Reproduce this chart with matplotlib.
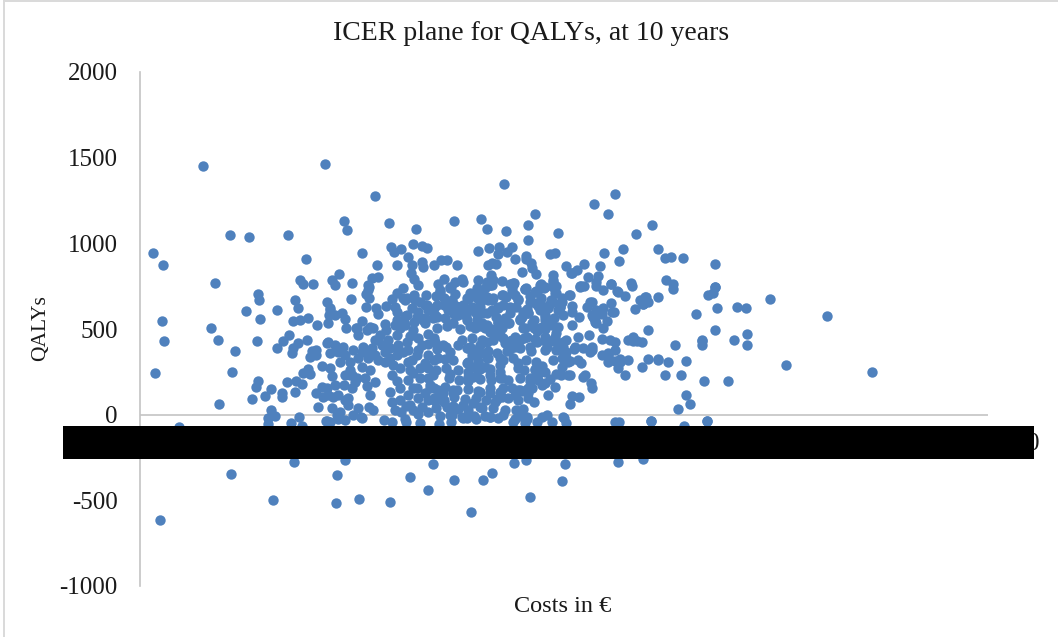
# ICER plane scatter
import matplotlib
matplotlib.use('Agg')
import matplotlib.pyplot as plt
from matplotlib.lines import Line2D
from matplotlib.patches import Rectangle

# the cost scale is hidden in the picture, so costs run 0-848 in plain axis units
top_points = [(63,1452),(185,1463),(235,1277),(204,1131),(207,1079),(249,1119),(276,1084),(90,1049),(109,1038),(148,1049),
    (13,944),(23,875),(222,944),(273,997),(251,979),(254,950),(261,968),(282,985),(287,974),(166,909),(268,921),(237,875),
    (257,875),(272,875),(282,892),(283,863),(199,822),(75,770),(160,787),(163,764),(173,764),(192,787),(195,758),(212,770),
    (232,799),(238,805),(228,758),(271,828),(274,793),(278,758),(263,740),
    (364,1347),(475,1288),(454,1230),(468,1172),(395,1172),(341,1143),(314,1131),(388,1108),(512,1108),(347,1084),(366,1073),
    (418,1061),(496,1055),(388,1020),(338,956),(349,974),(359,979),(358,939),(367,950),(372,979),(483,968),(518,968),(464,944),
    (410,939),(415,944),(386,927),(386,909),(375,909),(531,921),(525,915),(543,915),(479,898),(301,904),(307,904),(294,875),
    (317,875),(348,875),(352,886),(356,880),(391,886),(392,857),(426,869),(444,880),(460,869),(575,880),(382,834),(396,822),
    (437,845),(431,828),(351,816),(413,816),(448,805),(458,810),(526,787),(533,764),(491,770),(492,752),(471,764),(456,775),
    (304,793),(322,793),(338,787),(362,781),(347,770),(353,787),(350,758),(298,764),(401,764),(413,787),(416,752),(374,770),
    (440,752),(444,752),(575,746),(311,746),(386,740),(370,764),(404,740),(463,729),(477,723),(396,723)]

left_points = [(118,705),(119,670),(106,606),(137,612),(22,548),(120,560),(155,670),(158,624),(187,659),(211,676),(229,682),
    (226,705),(229,746),(257,711),(252,676),(274,700),(286,700),(226,630),(236,624),(238,589),(246,635),(263,682),(267,682),
    (285,641),(190,612),(189,583),(202,595),(205,560),(153,548),(160,554),(168,566),(177,525),(188,536),(206,507),(222,548),
    (217,507),(218,466),(227,496),(233,507),(245,531),(246,496),(257,554),(265,577),(285,536),(265,525),(273,496),(283,554),
    (71,507),(24,431),(78,437),(117,431),(95,373),(149,466),(143,431),(137,391),(158,420),(153,391),(167,437),(152,361),(172,373),
    (176,379),(176,350),(170,338),(188,426),(187,420),(195,408),(203,396),(190,361),(213,379),(223,396),(235,350),(232,391),
    (238,437),(225,373),(228,361),(248,437),(257,466),(267,426),(258,408),(282,408),(250,332),(263,367),(277,350),(257,350),
    (272,321),(285,303),(15,245),(92,251),(118,198),(116,163),(131,152),(147,192),(156,198),(162,181),(163,245),(168,268),(170,239),
    (182,286),(190,274),(200,309),(210,233),(192,227),(210,309),(210,262),(217,216),(222,280),(230,262),(235,192),(227,169),(230,117),
    (204,175),(212,157),(182,163),(187,157),(176,128),(183,105),(193,105),(125,111),(142,128),(142,105),(155,134),(112,93),(79,64),
    (178,47),(208,99),(208,58),(192,41),(218,41),(229,47),(233,29),(250,134),(252,76),(257,198),(273,245),(273,157),(277,157),(266,52),
    (261,17),(273,29),(282,47),(285,128)]

axis_points = [(39,-70),(128,-52),(162,-64),(131,29),(135,-6),(128,-17),(159,-12),(151,-47),(186,-35),(197,0),(205,-29),(213,0),
    (222,-17),(244,-29),(252,-41),(266,-41),(280,-47),(190,-41),(187,-35),(198,-23),(221,-12),(265,-23),(299,-52),(311,-41),(336,-23),
    (350,-12),(363,0),(375,-23),(387,-23),(397,-41),(412,-41),(424,-17),(426,-47),(479,-41),(511,-35),(567,-35),(544,-64)]

dense_points = [(300,729),(310,746),(323,775),(337,729),(350,758),(363,700),(373,758),(385,735),(397,717),(402,746),(415,711),(430,700),
    (440,746),(456,752),(471,764),(478,717),(485,694),(505,688),(518,688),(503,647),(471,653),(472,600),(452,659),(447,630),(432,635),
    (422,659),(420,630),(452,583),(455,554),(462,589),(467,548),(456,536),(463,507),(449,466),(438,455),(462,443),(493,431),(475,426),
    (470,437),(502,426),(488,437),(468,361),(480,326),(462,350),(468,350),(475,315),(452,396),(450,367),(468,309),(452,379),(443,391),
    (435,396),(423,396),(438,321),(430,315),(422,332),(441,303),(428,309),(423,373),(410,431),(405,455),(415,455),(423,426),(412,525),
    (392,536),(402,513),(375,455),(397,490),(407,396),(422,280),(430,233),(402,286),(395,262),(421,233),(428,233),(405,187),(443,222),
    (415,163),(451,187),(452,157),(432,111),(439,105),(430,64),(408,117),(394,76),(376,29),(407,0),(402,-12),(387,-12),(423,-12),(385,-47),
    (373,-41),(350,-12),(327,-17),(322,-12),(340,47),(333,70),(304,76),(300,93),(313,52),(323,58),(310,0),(303,128),(313,146),(290,157),
    (313,128),(340,134),(350,128),(375,117),(355,76),(362,105),(378,146),(388,128),(380,146),(363,157),(388,157),(368,204),(340,268),(350,233),
    (328,198),(333,222),(293,233),(310,239),(298,332),(313,321),(298,146),(300,134),(295,82),(290,175),(360,216),(390,198),(398,239),(378,274),
    (398,274),(378,303),(360,292),(360,332),(367,373),(340,361),(357,361),(347,332),(332,350),(327,303),(332,280),(340,286),(345,280),(327,391),
    (318,408),(310,367),(295,426),(303,408),(330,396),(335,350),(340,408),(347,426),(358,466),(369,536),(358,536),(345,507),(335,507),(350,484),
    (355,466),(365,420),(375,396),(380,437),(387,455),(390,396),(397,426),(405,379),(360,466),(370,431),(323,641),(333,700),(312,670),(297,641),
    (308,612),(295,583),(323,612),(318,583),(340,653),(348,670),(358,624),(343,595),(370,630),(370,595),(380,554),(388,595),(413,659),(405,624),(405,583),(342,536),(355,496)]

upper_cloud = [(228,729),(190,624),(195,583),(216,507),(230,513),(255,630),(257,600),(275,670),(287,641),(267,583),(277,571),(285,566),(297,571),
    (300,717),(310,740),(315,775),(330,711),(327,682),(337,682),(312,659),(308,624),(320,630),(332,630),(317,583),(337,612),(327,554),(313,536),(337,536),
    (347,775),(352,758),(345,740),(337,740),(337,688),(347,688),(352,670),(362,700),(373,770),(372,729),(385,735),(375,700),(378,670),(400,758),(405,746),
    (395,717),(400,659),(390,659),(395,653),(370,624),(358,630),(347,595),(335,600),(383,600),(388,595),(400,612),(408,624),(405,571),(380,560),(368,536),
    (358,542),(347,525),(410,536),(418,513),(385,507),(400,507),(432,828),(413,775),(416,711),(413,746),(441,752),(429,700),(506,688),(508,659),(503,647),
    (495,618),(450,659),(456,612),(463,624),(474,600),(453,571),(455,542),(432,600),(420,630),(423,583),(439,571),(432,525)]

middle_cloud = [(296,694),(304,682),(315,705),(328,676),(342,694),(353,682),(366,688),(378,676),(390,694),(401,682),(411,670),(422,682),
    (294,624),(304,641),(316,635),(330,618),(340,630),(352,612),(363,641),(376,630),(387,618),(398,635),(409,641),(418,612),
    (293,566),(305,566),(314,589),(326,577),(337,560),(356,571),(365,566),(382,571),(394,554),(405,554),(414,566),
    (297,507),(307,519),(320,501),(330,519),(340,519),(351,501),(362,507),(383,507),(394,507),(405,501),(416,478),
    (294,449),(322,437),(332,449),(342,437),(353,437),(363,449),(372,437),(384,449),(395,443),(405,431),(416,426),(426,437),
    (297,385),(306,396),(328,391),(338,385),(348,373),(370,385),(380,391),(391,373),(416,379),(426,367),(434,385)]

lower_cloud = [(294,321),(305,326),(328,309),(338,315),(348,332),(363,321),(373,332),(386,321),(396,309),(413,321),(426,332),
    (296,262),(306,274),(318,262),(328,251),(338,262),(350,268),(360,251),(384,262),(395,268),(405,251),(416,239),
    (309,216),(319,204),(328,222),(340,210),(351,204),(362,216),(380,216),(390,216),(398,204),(410,210),
    (294,157),(305,163),(317,146),(328,152),(338,140),(350,157),(360,134),(372,157),(382,140),(392,157),(402,175),
    (294,99),(304,87),(314,105),(325,93),(336,99),(346,87),(357,93),(368,99),(378,87),(388,99),
    (296,41),(307,47),(318,35),(328,29),(342,41),(353,41),(365,29),(383,35),
    (300,-6),(312,0),(323,-17),(334,-6),(345,-6),(358,-17),(380,-6)]

left_cloud = [(265,670),(280,659),(272,624),(288,612),(264,542),(274,542),(278,600),(288,472),(278,449),(270,461),(260,507),(255,525),(240,466),
    (250,391),(258,379),(268,379),(278,379),(288,414),(288,350),(268,309),(280,274),(260,274),(270,262),(288,274),(253,292),(245,367),(288,216),
    (280,216),(268,204),(252,233),(260,157),(268,117),(278,99),(288,87),(255,29),(270,58),(278,6),(288,17),(245,309),(228,332),(218,332),(205,350),
    (198,367),(238,321),(205,233),(215,192),(195,175),(225,216),(242,408),(235,437),(222,367),(212,233),(205,87),(200,17),(188,117),(198,117),(260,87)]

right_points = [(575,746),(500,670),(533,735),(568,700),(577,624),(597,630),(606,624),(630,676),(687,577),(556,589),(562,437),
    (535,408),(562,408),(594,437),(607,408),(508,496),(575,496),(493,455),(497,431),(508,326),(518,326),(528,309),(546,315),(488,321),(518,321),
    (475,379),(478,274),(480,309),(468,344),(525,233),(541,233),(564,198),(485,233),(588,198),(546,117),(550,64),(538,35),(475,-41),(567,-35),
    (511,-35),(573,711),(607,472),(646,292),(732,251),(562,431),(502,280),(445,233)]

below_points = [(91,-344),(133,-496),(20,-612),(197,-350),(196,-513),(219,-490),(250,-507),(270,-361),(293,-286),(288,-437),(314,-379),
    (343,-379),(352,-338),(331,-571),(390,-478),(374,-280),(386,-262),(154,-274),(205,-262),(422,-385),(425,-286),(478,-274),(503,-257)]

all_points = (top_points + left_points + axis_points + dense_points + upper_cloud + middle_cloud
              + lower_cloud + left_cloud + right_points + below_points)
costs = [p[0] for p in all_points]
qalys = [p[1] for p in all_points]

y_ticks = [-1000, -500, 0, 500, 1000, 1500, 2000]

W, H = 1058, 637
serif = ['Liberation Serif', 'DejaVu Serif']
plt.rcParams['font.family'] = serif
plt.rcParams['axes.unicode_minus'] = False

fig = plt.figure(figsize=(W/100, H/100), dpi=100)
ax = fig.add_axes([140/W, 1-586/H, 848/W, 514/H])

ax.axhline(0, color='#c4c4c4', lw=1.2, zorder=1)
ax.scatter(costs, qalys, s=56, color='#4f81bd', linewidths=0, zorder=2)

ax.set_xlim(0, 848)
ax.set_ylim(-1000, 2000)
ax.set_xticks([])
ax.set_yticks(y_ticks)
ax.tick_params(axis='y', length=0, pad=16, labelsize=18, labelcolor='#1a1a1a')
for s in ['top', 'right', 'bottom']:
    ax.spines[s].set_visible(False)
ax.spines['left'].set_color('#c4c4c4')
ax.spines['left'].set_linewidth(1.2)

fig.text(531/W, 1-34/H, 'ICER plane for QALYs, at 10 years', ha='center', va='center', fontsize=20, color='#1a1a1a')
fig.text(563/W, 1-606/H, 'Costs in €', ha='center', va='center', fontsize=17.5, color='#1a1a1a')
fig.text(41/W, 1-328/H, 'QALYs', ha='center', va='center', rotation=90, fontsize=15.5, color='#1a1a1a')

# end of the last cost label sticks out from under the black bar
fig.text(1039/W, 1-444/H, '0', ha='right', va='center', fontsize=18, color='#1a1a1a')
fig.add_artist(Rectangle((63/W, 1-459/H), 971/W, 33/H, transform=fig.transFigure, color='black', lw=0, zorder=10))

# light frame of the pasted chart
fig.add_artist(Line2D([4/W, 4/W], [0, 1-1/H], transform=fig.transFigure, color='#d9d9d9', lw=1.4))
fig.add_artist(Line2D([4/W, 1], [1-1/H, 1-1/H], transform=fig.transFigure, color='#d9d9d9', lw=1.4))

fig.savefig('out.png', dpi=100)
